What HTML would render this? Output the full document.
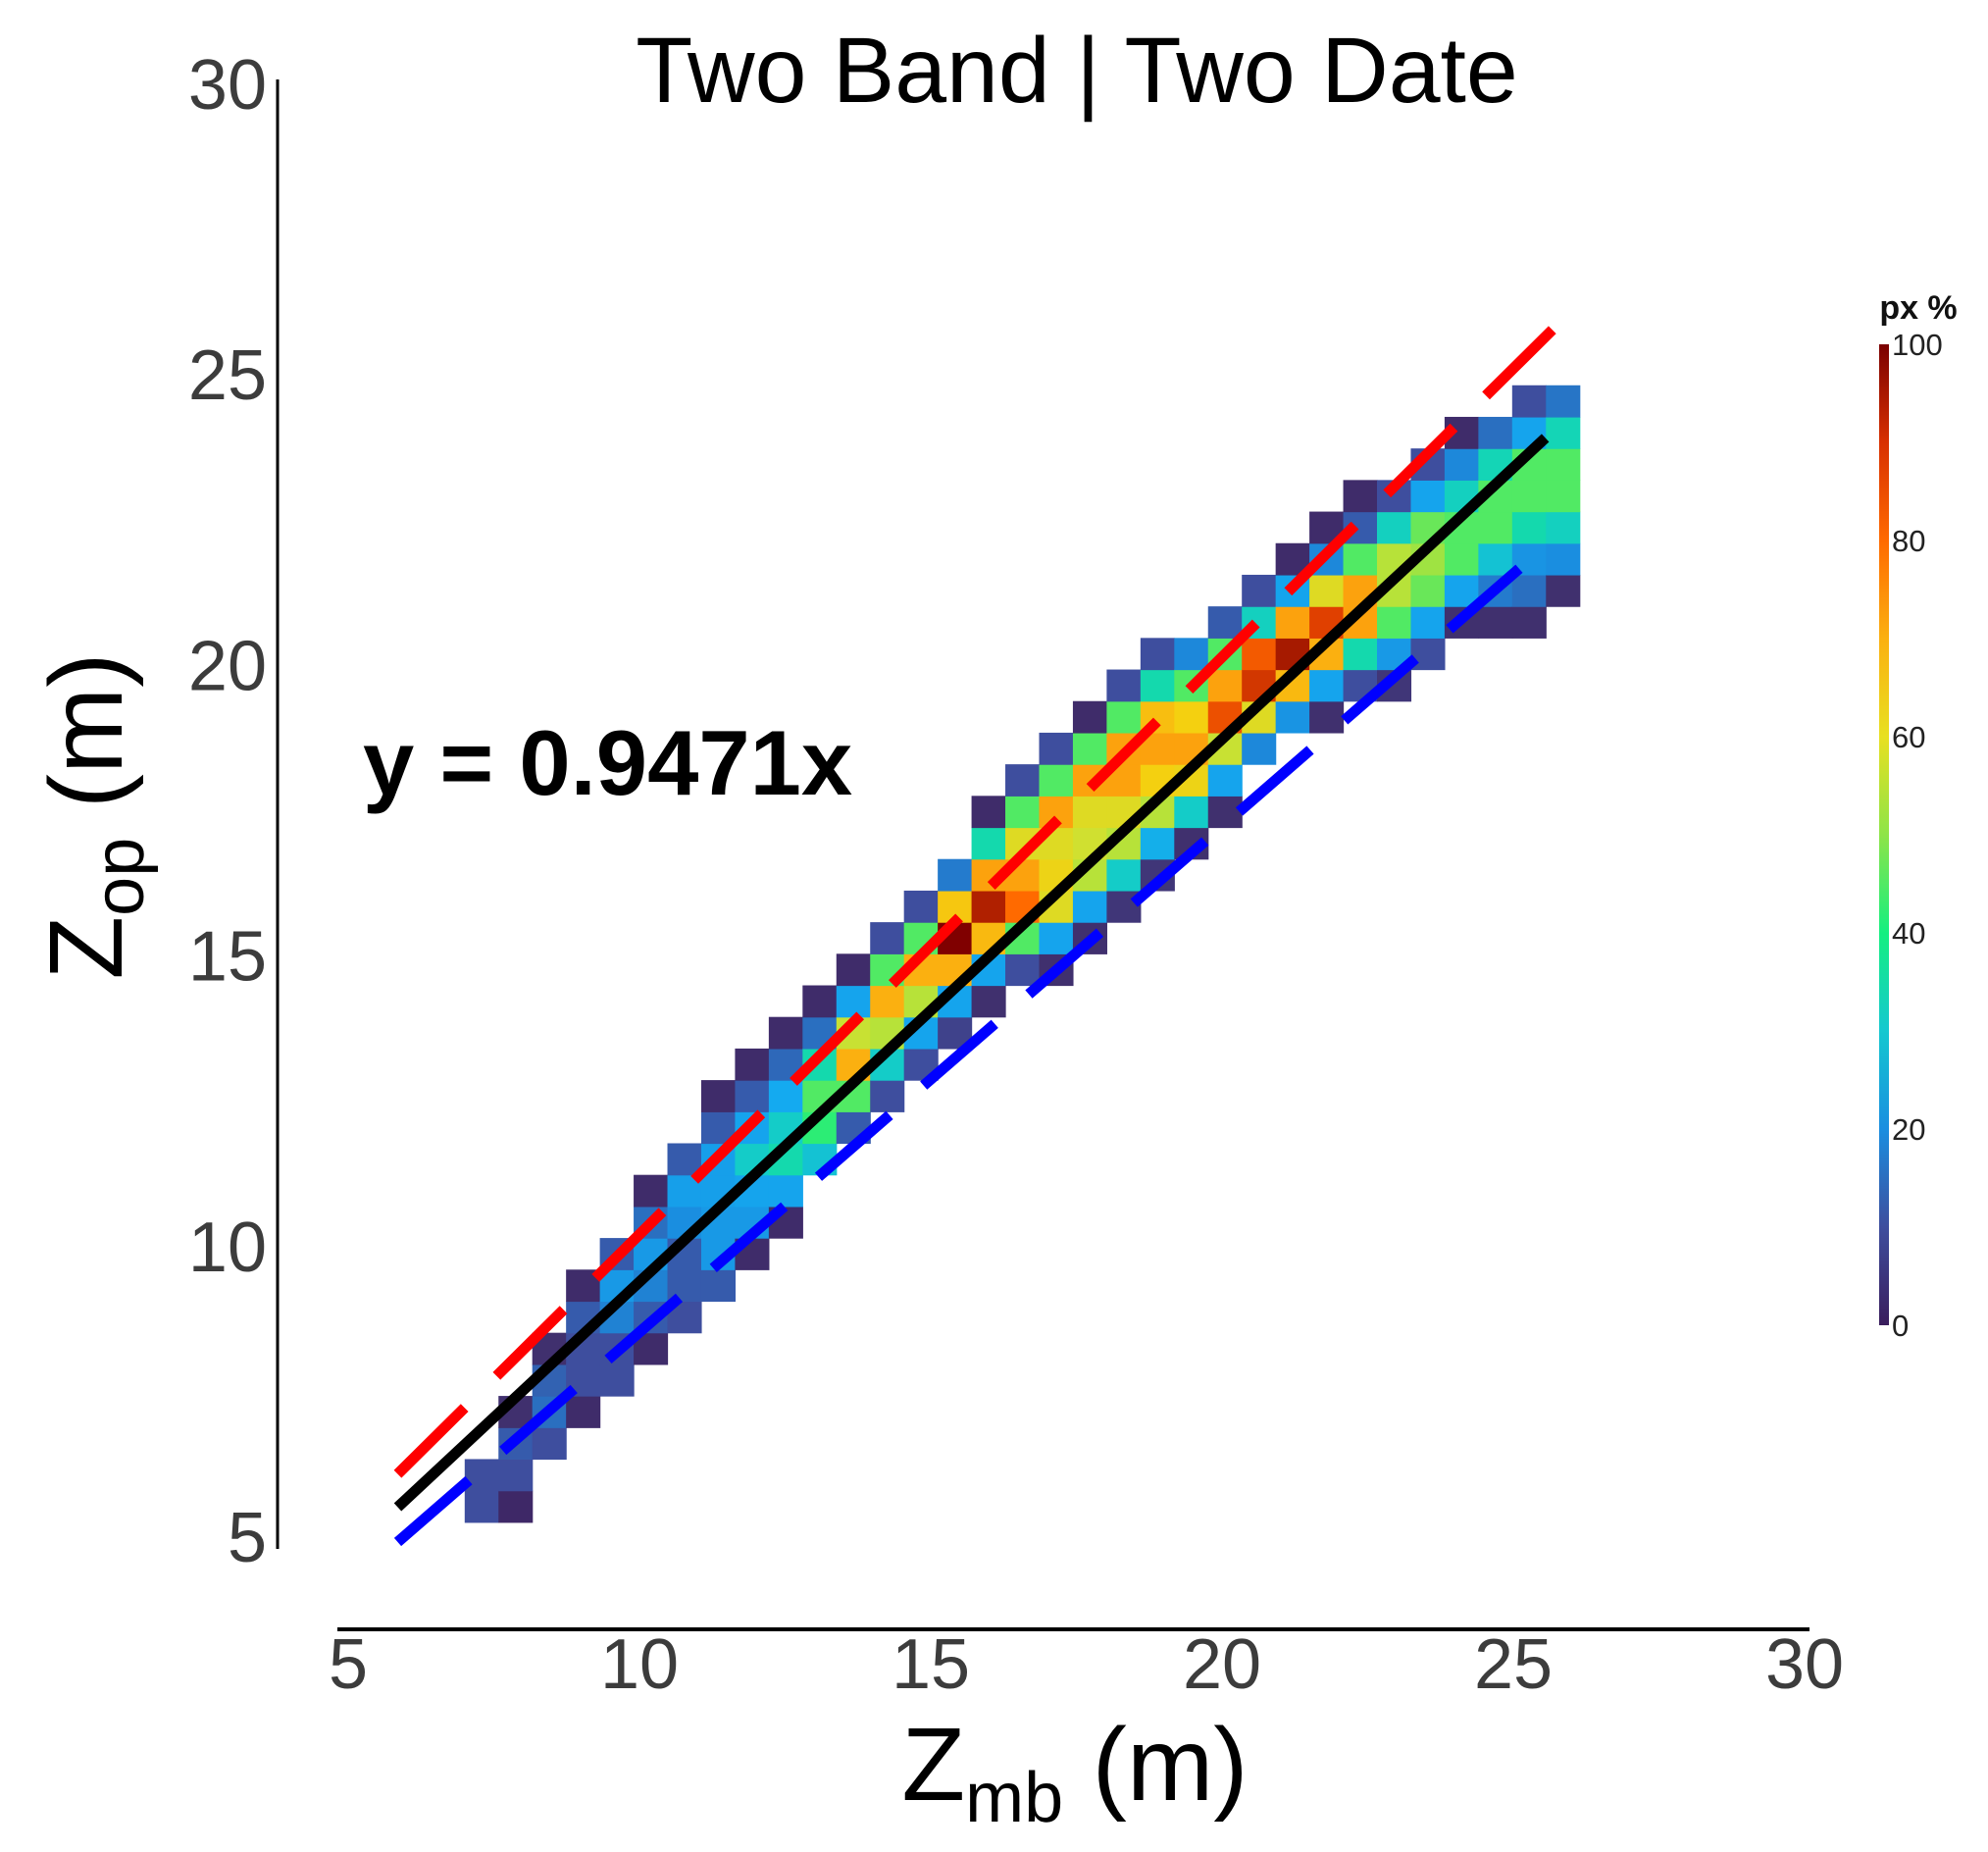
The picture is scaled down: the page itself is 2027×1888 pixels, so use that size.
<!DOCTYPE html>
<html><head><meta charset="utf-8"><title>Two Band | Two Date</title>
<style>
html,body{margin:0;padding:0;background:#fff;}
svg{display:block;font-family:"Liberation Sans",Arial,sans-serif;}
</style></head>
<body>
<svg id="chart" width="2027" height="1888" viewBox="0 0 2027 1888" xmlns="http://www.w3.org/2000/svg">
  <defs>
    <linearGradient id="cbGrad" x1="0" y1="1" x2="0" y2="0">
      <stop offset="0" stop-color="#3a1d5c"/>
      <stop offset="0.1" stop-color="#3e4e9e"/>
      <stop offset="0.2" stop-color="#1a8ee0"/>
      <stop offset="0.3" stop-color="#14c8d0"/>
      <stop offset="0.4" stop-color="#14ef80"/>
      <stop offset="0.5" stop-color="#8ee448"/>
      <stop offset="0.6" stop-color="#e8e020"/>
      <stop offset="0.7" stop-color="#fbb010"/>
      <stop offset="0.8" stop-color="#ff6a00"/>
      <stop offset="0.9" stop-color="#d83000"/>
      <stop offset="1" stop-color="#7a0000"/>
    </linearGradient>
  </defs>
  <g id="cells"></g>
  <g id="lines"></g>
  <line x1="283" y1="81" x2="283" y2="1579" stroke="#000" stroke-width="3"/>
  <line x1="344" y1="1661" x2="1845" y2="1661" stroke="#000" stroke-width="4"/>
  <g id="yticks"></g>
  <g id="xticks"></g>
  <text x="1098" y="104" font-size="95" text-anchor="middle" fill="#000">Two Band | Two Date</text>
  <text x="1096" y="1835" font-size="106" text-anchor="middle" fill="#000">Z<tspan font-size="72" dy="22">mb</tspan><tspan dy="-22"> (m)</tspan></text>
  <text transform="translate(124,832) rotate(-90)" font-size="106" text-anchor="middle" fill="#000">Z<tspan font-size="72" dy="22">op</tspan><tspan dy="-22"> (m)</tspan></text>
  <text x="370" y="810" font-size="94" font-weight="bold" fill="#000">y = 0.9471x</text>
  <g>
    <text x="1956" y="325" font-size="34" font-weight="bold" text-anchor="middle" fill="#111">px %</text>
    <rect x="1916" y="351" width="10" height="1000" fill="url(#cbGrad)"/>
    <g id="cbticks"></g>
  </g>
</svg>
<script>
// ---- data ----
const xTicks = [5, 10, 15, 20, 25, 30];
const yTicks = [5, 10, 15, 20, 25, 30];
const cbTicks = [0, 20, 40, 60, 80, 100];
const binX0 = 7.0, binW = 0.58;
const binY0 = 5.34, binH = 0.5435;
// heatmap columns: starting row index for each column, then px% values upward
const colStart = [0,0,2,3,4,5,6,7,8,9,11,12,13,14,15,16,17,17,18,19,20,21,22,24,25,25,26,26,27,28,28,28,29];
const colValues = [
 [10,10],
 [3,10,12,5],
 [10,15,13,5],
 [4,10,10,12,4],
 [10,10,18,22,12],
 [4,12,18,22,15,4],
 [10,12,12,20,23,12],
 [12,22,22,23,23,12,4],
 [4,22,24,32,24,12,4],
 [4,24,35,32,25,14,4],
 [30,42,45,35,15,4],
 [12,45,70,57,24,4],
 [10,32,55,70,45,10],
 [10,24,55,70,45,10],
 [8,24,70,100,65,17],
 [5,24,68,95,72,35,4],
 [10,45,80,72,60,45,10],
 [5,24,60,62,60,72,45,10],
 [5,24,55,58,60,72,45,4],
 [6,32,55,60,72,72,45,10],
 [6,26,55,63,72,67,35,10],
 [5,32,62,72,63,45,19],
 [5,24,57,85,72,45,12],
 [19,60,90,83,33,10],
 [21,68,96,72,24,4],
 [5,24,70,88,60,19,4],
 [10,35,72,72,45,12,4],
 [6,22,45,55,55,33,10],
 [10,24,47,52,47,24,10],
 [5,24,45,45,33,19,4],
 [5,17,30,45,45,34,15],
 [5,15,21,35,45,45,24,10],
 [5,20,33,45,45,34,16]
];
// line endpoints (data units)
const fitX = [5.85, 25.55];
const fitY = [5.6, 24.0];
const upperX = [5.85, 25.67];
const upperY = [6.17, 25.86];
const lowerX = [5.85, 25.1];
const lowerY = [5.0, 21.75];

// ---- scales ----
const X0 = 355, XS = 59.4, Y30 = 91, YS = 59.24;
function sx(v){ return X0 + (v - 5) * XS; }
function sy(v){ return Y30 + (30 - v) * YS; }
const cbTop = 351, cbH = 1000;
function scb(v){ return cbTop + cbH * (1 - v / 100); }

const stops = [[0,'#3a1d5c'],[5,'#40306e'],[10,'#3e4e9e'],[15,'#2a6fc0'],[20,'#1a8ee0'],[25,'#14aaf0'],[32,'#14ccc8'],[40,'#14ef80'],[50,'#8ee448'],[58,'#d0e030'],[63,'#f4d010'],[70,'#fbb010'],[80,'#ff6a00'],[88,'#e04000'],[95,'#b02000'],[100,'#800000']];
function hex(h){ return [parseInt(h.substr(1,2),16),parseInt(h.substr(3,2),16),parseInt(h.substr(5,2),16)]; }
function color(v){
  for (let i=1;i<stops.length;i++){
    if (v <= stops[i][0]){
      const a=stops[i-1], b=stops[i], t=(v-a[0])/(b[0]-a[0]);
      const ca=hex(a[1]), cb=hex(b[1]);
      return 'rgb('+ca.map((c,k)=>Math.round(c+(cb[k]-c)*t)).join(',')+')';
    }
  }
  return stops[stops.length-1][1];
}
const NS = 'http://www.w3.org/2000/svg';
function mk(tag, attrs, parent){
  const e = document.createElementNS(NS, tag);
  for (const k in attrs) e.setAttribute(k, attrs[k]);
  parent.appendChild(e);
  return e;
}

// cells
const gCells = document.getElementById('cells');
colValues.forEach((vals, c) => {
  vals.forEach((v, k) => {
    const r = colStart[c] + k;
    const xl = sx(binX0 + c * binW), xr = sx(binX0 + (c + 1) * binW);
    const yb = sy(binY0 + r * binH), yt = sy(binY0 + (r + 1) * binH);
    const rect = mk('rect', {x: xl, y: yt, width: xr - xl + 0.6, height: yb - yt + 0.6, fill: color(v)}, gCells);
    
    
  });
});

// lines
const gL = document.getElementById('lines');
const red = mk('line', {x1: sx(upperX[0]), y1: sy(upperY[0]), x2: sx(upperX[1]), y2: sy(upperY[1]), stroke: '#ff0000', 'stroke-width': 11, 'stroke-dasharray': '96 46'}, gL);


const blue = mk('line', {x1: sx(lowerX[0]), y1: sy(lowerY[0]), x2: sx(lowerX[1]), y2: sy(lowerY[1]), stroke: '#0000ff', 'stroke-width': 11, 'stroke-dasharray': '96 46'}, gL);


const blk = mk('line', {x1: sx(fitX[0]), y1: sy(fitY[0]), x2: sx(fitX[1]), y2: sy(fitY[1]), stroke: '#000', 'stroke-width': 11}, gL);



// ticks
const gy = document.getElementById('yticks');
yTicks.forEach(v => {
  const t = mk('text', {x: 272, y: sy(v) + 20, 'font-size': 72, 'text-anchor': 'end', fill: '#3c3c3c'}, gy);
  t.textContent = v;
  
  
});
const gx = document.getElementById('xticks');
xTicks.forEach(v => {
  const t = mk('text', {x: sx(v), y: 1721, 'font-size': 72, 'text-anchor': 'middle', fill: '#3c3c3c'}, gx);
  t.textContent = v;
  
  
});
const gc = document.getElementById('cbticks');
cbTicks.forEach(v => {
  const t = mk('text', {x: 1929, y: scb(v) + 11, 'font-size': 31, fill: '#222'}, gc);
  t.textContent = v;
  
  
});
</script>
</body></html>
